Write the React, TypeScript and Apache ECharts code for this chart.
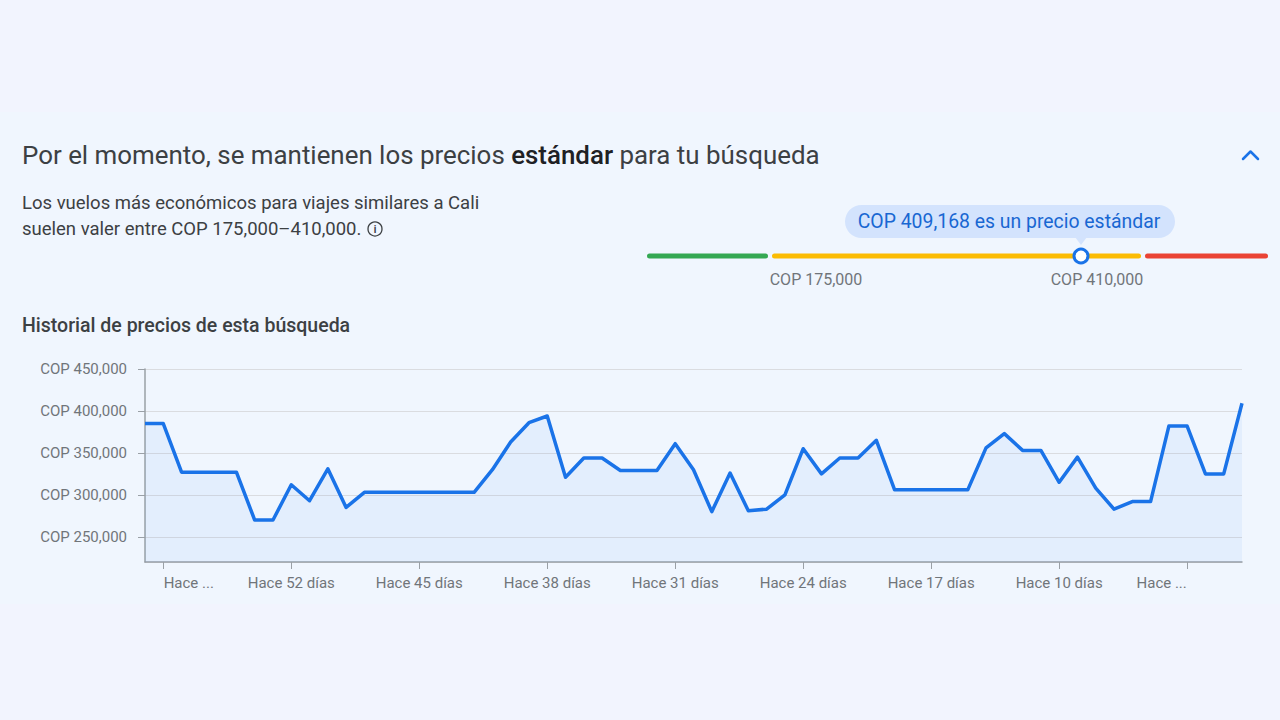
import React, { useEffect, useRef } from "react";
import * as echarts from "echarts";

// ---- data ----
const daysAgo: number[] = Array.from({ length: 61 }, (_, i) => 60 - i);
const categories: string[] = daysAgo.map((d) => `Hace ${d} días`);
const prices: number[] = [
  385000, 385000, 327000, 327000, 327000, 327000, 270000, 270000, 312000, 293000,
  331000, 285000, 303000, 303000, 303000, 303000, 303000, 303000, 303000, 330000,
  363000, 386000, 394000, 321000, 344000, 344000, 329000, 329000, 329000, 361000,
  330000, 280000, 326000, 281000, 283000, 300000, 355000, 325000, 344000, 344000,
  365000, 306000, 306000, 306000, 306000, 306000, 356000, 373000, 353000, 353000,
  315000, 345000, 308000, 283000, 292000, 292000, 382000, 382000, 325000, 325000,
  409168,
];
const tickDays: number[] = [59, 52, 45, 38, 31, 24, 17, 10, 3];
const tickLabels: string[] = [
  "Hace ...", "Hace 52 días", "Hace 45 días", "Hace 38 días", "Hace 31 días",
  "Hace 24 días", "Hace 17 días", "Hace 10 días", "Hace ...",
];
const yMin = 220000;
const yMax = 450000;
const rangeLow = "COP 175,000";
const rangeHigh = "COP 410,000";
const currentPriceText = "COP 409,168 es un precio estándar";

const FONT = "Roboto, 'Noto Sans', sans-serif";
const DARK = "#3c4043";
const GREY = "#70757a";
const BLUE = "#1a73e8";

export default function App() {
  const ref = useRef<HTMLDivElement>(null);

  useEffect(() => {
    if (!ref.current) return;
    const chart = echarts.init(ref.current, undefined, { renderer: "svg" });
    const showTick = (idx: number) => tickDays.includes(daysAgo[idx]);
    const lastTick = tickDays.length - 1;

    chart.setOption({
      animation: false,
      backgroundColor: "#f2f4fe",
      grid: { left: 145, right: 38, top: 369, bottom: 158, containLabel: false },
      xAxis: {
        type: "category",
        data: categories,
        boundaryGap: false,
        axisLine: { lineStyle: { color: "#9aa0a6", width: 1.5 } },
        axisTick: { interval: (idx: number) => showTick(idx), length: 7, lineStyle: { color: "#9aa0a6" } },
        axisLabel: {
          interval: (idx: number) => showTick(idx),
          formatter: (_v: string, idx: number) => {
            const k = tickDays.indexOf(daysAgo[idx]);
            if (k < 0) return "";
            if (k === 0) return `{l|${tickLabels[k]}}`;
            if (k === lastTick) return `{r|${tickLabels[k]}}`;
            return tickLabels[k];
          },
          rich: {
            l: { padding: [0, 0, 0, 51], color: GREY, fontSize: 15, fontFamily: FONT },
            r: { padding: [0, 51, 0, 0], color: GREY, fontSize: 15, fontFamily: FONT },
          },
          color: GREY,
          fontSize: 15,
          fontFamily: FONT,
          margin: 13,
        },
        splitLine: { show: false },
      },
      yAxis: {
        type: "value",
        min: yMin,
        max: yMax,
        splitNumber: 5,
        axisLine: { show: true, lineStyle: { color: "#9aa0a6", width: 1.5 } },
        axisTick: { show: true, length: 7, lineStyle: { color: "#9aa0a6" } },
        axisLabel: {
          showMinLabel: false,
          formatter: (v: number) => (v % 50000 === 0 ? "COP " + v.toLocaleString("en-US") : ""),
          color: GREY,
          fontSize: 15,
          fontFamily: FONT,
          margin: 18,
        },
        splitLine: { lineStyle: { color: "#dadce0", width: 1 } },
      },
      series: [
        {
          type: "line",
          data: prices,
          symbol: "none",
          lineStyle: { color: BLUE, width: 3.5, join: "round" },
          areaStyle: { color: "rgba(26,115,232,0.08)" },
        },
      ],
      graphic: [
        { type: "rect", z: -10, shape: { x: 0, y: 112, width: 1280, height: 492 }, style: { fill: "#f0f6fe" } },
        {
          type: "text",
          style: {
            x: 22,
            y: 155,
            textVerticalAlign: "middle",
            text: "{n|Por el momento, se mantienen los precios }{b|estándar}{n| para tu búsqueda}",
            rich: {
              n: { fontSize: 25.9, fontFamily: FONT, fontWeight: 400, fill: DARK },
              b: { fontSize: 25.9, fontFamily: FONT, fontWeight: 500, fill: "#202124" },
            },
          },
        },
        {
          type: "polyline",
          shape: { points: [[1243, 159], [1250.5, 151.5], [1258, 159]] },
          style: { stroke: BLUE, lineWidth: 2.5, fill: "none", lineCap: "round", lineJoin: "round" },
        },
        {
          type: "text",
          style: { x: 22, y: 203, textVerticalAlign: "middle", text: "Los vuelos más económicos para viajes similares a Cali", font: `400 18.5px ${FONT}`, fill: DARK },
        },
        {
          type: "text",
          style: { x: 22, y: 229, textVerticalAlign: "middle", text: "suelen valer entre COP 175,000–410,000.", font: `400 18.5px ${FONT}`, fill: DARK },
        },
        { type: "circle", shape: { cx: 375, cy: 229, r: 7 }, style: { fill: "none", stroke: DARK, lineWidth: 1.3 } },
        {
          type: "text",
          style: { x: 375, y: 229.5, textAlign: "center", textVerticalAlign: "middle", text: "i", font: `700 10px ${FONT}`, fill: DARK },
        },
        // price range bar
        { type: "line", shape: { x1: 649.5, y1: 256, x2: 765.5, y2: 256 }, style: { stroke: "#34a853", lineWidth: 5, lineCap: "round" } },
        { type: "line", shape: { x1: 774.5, y1: 256, x2: 1138.5, y2: 256 }, style: { stroke: "#fbbc04", lineWidth: 5, lineCap: "round" } },
        { type: "line", shape: { x1: 1147.5, y1: 256, x2: 1265.5, y2: 256 }, style: { stroke: "#ea4335", lineWidth: 5, lineCap: "round" } },
        {
          type: "text",
          style: { x: 816, y: 279, textAlign: "center", textVerticalAlign: "middle", text: rangeLow, font: `400 16px ${FONT}`, fill: GREY },
        },
        {
          type: "text",
          style: { x: 1097, y: 279, textAlign: "center", textVerticalAlign: "middle", text: rangeHigh, font: `400 16px ${FONT}`, fill: GREY },
        },
        // tooltip pill
        { type: "rect", shape: { x: 845, y: 205, width: 330, height: 33, r: 16.5 }, style: { fill: "#d3e3fd" } },
        { type: "polygon", shape: { points: [[1075, 237], [1087, 237], [1081, 245]] }, style: { fill: "#d3e3fd" } },
        {
          type: "text",
          style: { x: 1009, y: 221.5, textAlign: "center", textVerticalAlign: "middle", text: currentPriceText, font: `400 19.4px ${FONT}`, fill: "#1967d2" },
        },
        { type: "circle", shape: { cx: 1081, cy: 256, r: 7 }, style: { fill: "#ffffff", stroke: BLUE, lineWidth: 3 } },
        {
          type: "text",
          style: { x: 22, y: 325, textVerticalAlign: "middle", text: "Historial de precios de esta búsqueda", font: `500 19.5px ${FONT}`, fill: DARK },
        },
      ],
    });

    return () => chart.dispose();
  }, []);

  return (
    <div
      ref={ref}
      style={{ position: "fixed", left: 0, top: 0, width: 1280, height: 720 }}
    />
  );
}
